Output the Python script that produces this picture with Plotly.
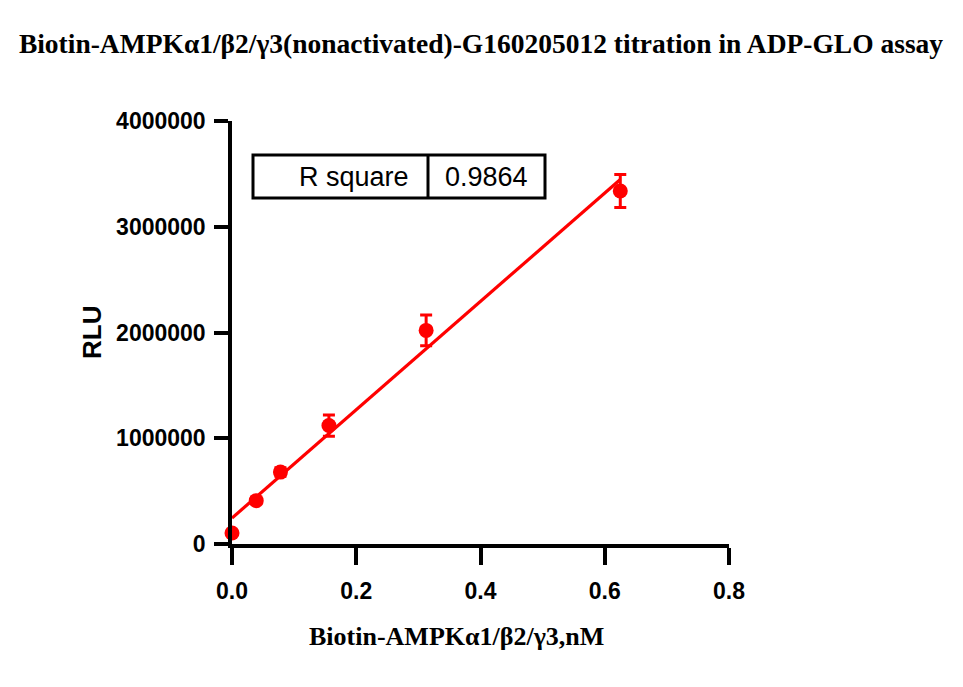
import numpy as np
import plotly.graph_objects as go

# Data
conc_nM = [0.0, 0.039, 0.078, 0.156, 0.3125, 0.625]
rlu_mean = [104000, 410000, 680000, 1120000, 2020000, 3338000]
rlu_sd = [20000, 30000, 40000, 100000, 145000, 155000]
r_square_label = "R square"
r_square_value = "0.9864"
x_ticks = [0.0, 0.2, 0.4, 0.6, 0.8]
y_ticks = [0, 1000000, 2000000, 3000000, 4000000]

RED = "#ff0000"
slope, intercept = np.polyfit(conc_nM, rlu_mean, 1)
fit_x = [0.0, max(conc_nM)]
fit_y = [intercept + slope * v for v in fit_x]

fig = go.Figure()
fig.add_trace(go.Scatter(
    x=fit_x, y=fit_y, mode="lines",
    line=dict(color=RED, width=3.2), showlegend=False, cliponaxis=False,
))
fig.add_trace(go.Scatter(
    x=conc_nM, y=rlu_mean, mode="markers",
    marker=dict(color=RED, size=15),
    error_y=dict(type="data", array=rlu_sd, color=RED, thickness=3, width=6),
    showlegend=False, cliponaxis=False,
))

OFF = 8  # page body offset
W, H = 963 - OFF, 687 - OFF
# target plot area in window pixels
PX0, PX1, PY0, PY1 = 232, 729, 121, 544
L, R, T, B = PX0 - OFF, W + OFF - PX1, PY0 - OFF, H + OFF - PY1
pw = PX1 - PX0
ph = PY1 - PY0

sans = "Liberation Sans, Arial, sans-serif"
serif = "Liberation Serif, Times New Roman, serif"


def px_x(p):
    return (p - PX0) / pw


def px_y(p):
    return (PY1 - p) / ph


fig.update_layout(
    width=W, height=H,
    margin=dict(l=L, r=R, t=T, b=B),
    plot_bgcolor="white", paper_bgcolor="white",
    title=dict(
        text="<b>Biotin-AMPKα1/β2/γ3(nonactivated)-G160205012 titration in ADP-GLO assay</b>",
        font=dict(family=serif, size=27.5, color="black"),
        x=px_x(481), xanchor="center", xref="paper",
        y=1 - (43 - OFF) / H, yanchor="middle", yref="container",
    ),
    xaxis=dict(
        range=[0, 0.8], tickvals=x_ticks, ticktext=[f"{v:.1f}" for v in x_ticks],
        showline=True, linecolor="black", linewidth=3.5,
        ticks="outside", ticklen=17, tickwidth=3.5, tickcolor="black",
        showgrid=False, zeroline=False,
        tickfont=dict(family=sans, size=23, color="black", weight="bold"),
        ticklabelstandoff=7,
    ),
    yaxis=dict(
        range=[0, 4000000], tickvals=y_ticks, ticktext=[str(v) for v in y_ticks],
        showline=True, linecolor="black", linewidth=3.5,
        ticks="outside", ticklen=14, tickwidth=3.5, tickcolor="black",
        showgrid=False, zeroline=False,
        tickfont=dict(family=sans, size=23, color="black", weight="bold"),
        ticklabelstandoff=4,
    ),
)

# axis titles
fig.add_annotation(
    text="<b>Biotin-AMPKα1/β2/γ3,nM</b>", xref="paper", yref="paper",
    x=px_x(456.5), y=px_y(636), xanchor="center", yanchor="middle",
    showarrow=False, font=dict(family=serif, size=26, color="black"),
)
fig.add_annotation(
    text="<b>RLU</b>", xref="paper", yref="paper", textangle=-90,
    x=px_x(92), y=px_y(333), xanchor="center", yanchor="middle",
    showarrow=False, font=dict(family=sans, size=26, color="black"),
)

# R square table
tx0, tx1, tdiv, ty0, ty1 = 253, 545, 428, 155, 198
fig.add_shape(type="rect", xref="paper", yref="paper",
              x0=px_x(tx0), x1=px_x(tx1), y0=px_y(ty1), y1=px_y(ty0),
              line=dict(color="black", width=3), fillcolor="white")
fig.add_shape(type="line", xref="paper", yref="paper",
              x0=px_x(tdiv), x1=px_x(tdiv), y0=px_y(ty1), y1=px_y(ty0),
              line=dict(color="black", width=3))
fig.add_annotation(text=r_square_label, xref="paper", yref="paper",
                   x=px_x(411), y=px_y(177), xanchor="right", yanchor="middle",
                   showarrow=False, font=dict(family=sans, size=27, color="black"))
fig.add_annotation(text=r_square_value, xref="paper", yref="paper",
                   x=px_x(486), y=px_y(177), xanchor="center", yanchor="middle",
                   showarrow=False, font=dict(family=sans, size=27, color="black"))

fig.write_html("out.html")
